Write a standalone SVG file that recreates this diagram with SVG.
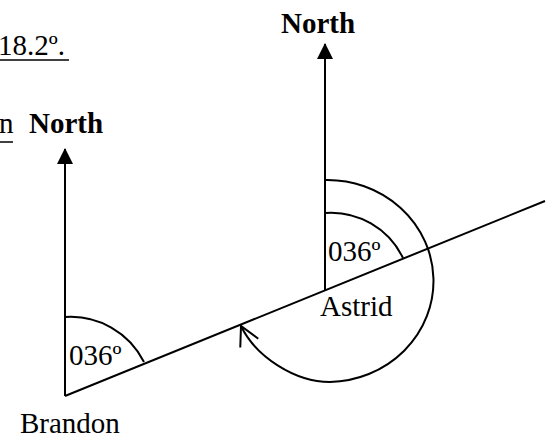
<svg xmlns="http://www.w3.org/2000/svg" width="547" height="437" viewBox="0 0 547 437">
<style>
text{font-family:"Liberation Serif","Times New Roman",serif;font-size:29px;fill:#000}
.b{font-weight:bold}
.ln{stroke:#000;stroke-width:2;fill:none}
</style>
<defs>
<marker id="tri" markerUnits="userSpaceOnUse" markerWidth="16" markerHeight="16" viewBox="0 0 16 16" refX="15" refY="8" orient="auto">
<path d="M0,0 L16,8 L0,16 Z" fill="#000"/>
</marker>
<marker id="open" markerUnits="userSpaceOnUse" markerWidth="24" markerHeight="24" viewBox="-22 -12 24 24" refX="0" refY="0" orient="auto">
<path d="M-19,-10 L0,0 L-19,10" fill="none" stroke="#000" stroke-width="2"/>
</marker>
</defs>
<rect width="547" height="437" fill="#fff"/>
<g id="fragments">
<text x="-2" y="55">18.2º.</text>
<line x1="0" y1="60" x2="69" y2="60" stroke="#000" stroke-width="1.5"/>
<text x="-1" y="133">n</text>
<line x1="0" y1="142" x2="13" y2="142" stroke="#000" stroke-width="1.5"/>
</g>
<g id="connectors">
<line class="ln" x1="65" y1="396" x2="545" y2="201"/>
<line class="ln" x1="65" y1="396" x2="65" y2="149" marker-end="url(#tri)"/>
<line class="ln" x1="325" y1="290" x2="325" y2="44" marker-end="url(#tri)"/>
<path class="ln" d="M65,317 A82,82 0 0 1 144,362"/>
<path class="ln" d="M325,213 A80,80 0 0 1 403,258"/>
<path class="ln" d="M325,180 A106,101 0 0 1 330,382 C295,382 256,357 241,326" marker-end="url(#open)"/>
</g>
<g id="brandon">
<text x="20" y="433">Brandon</text>
<text x="69" y="365">036º</text>
</g>
<g id="north-left">
<text class="b" x="29" y="133">North</text>
</g>
<g id="astrid">
<text x="320" y="316">Astrid</text>
<text x="328" y="261">036º</text>
</g>
<g id="north-right">
<text class="b" x="281" y="33">North</text>
</g>
</svg>
